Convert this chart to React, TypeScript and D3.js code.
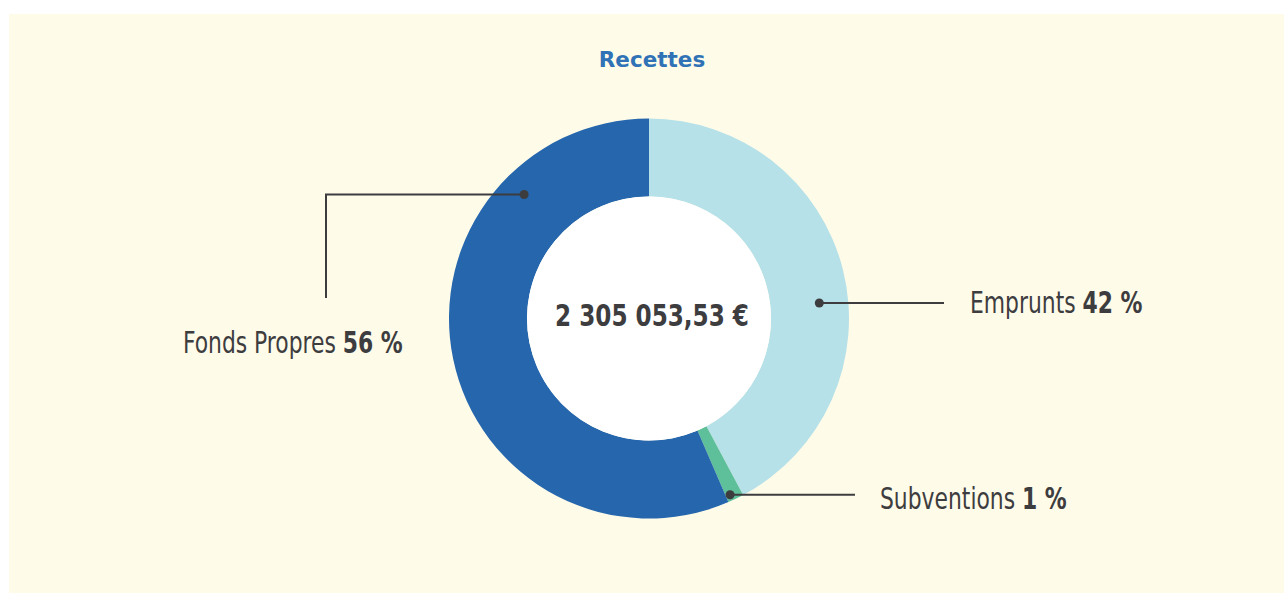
import React, { useEffect, useRef } from 'react';
import * as d3 from 'd3';

// values (shares of the total, %)
const categories = ['Emprunts', 'Subventions', 'Fonds Propres'];
const values = [42.2, 1.3, 56.5];
const pctLabels = ['42 %', '1 %', '56 %'];
const colors = ['#b6e1e8', '#5ebf9b', '#2566ad'];
const totalLabel = '2 305 053,53 €';
const title = 'Recettes';

const App: React.FC = () => {
  const chartRef = useRef<SVGSVGElement>(null);

  useEffect(() => {
    const svg = d3.select(chartRef.current);
    const width = 1284;
    const height = 593;
    svg.selectAll('*').remove();
    svg.attr('width', width).attr('height', height);

    svg
      .append('rect')
      .attr('x', 9)
      .attr('y', 14)
      .attr('width', width - 9)
      .attr('height', height - 14)
      .attr('fill', '#fffbe9');

    svg
      .append('text')
      .attr('x', 652)
      .attr('y', 67)
      .attr('text-anchor', 'middle')
      .attr('font-family', "'DejaVu Sans', sans-serif")
      .attr('font-weight', 700)
      .attr('font-size', 21.5)
      .attr('fill', '#2f72b6')
      .text(title);

    const cx = 649;
    const cy = 318.5;
    const outerR = 200;
    const innerR = 122;
    const condensed = "'DejaVu Sans Condensed', 'DejaVu Sans', sans-serif";

    const g = svg.append('g').attr('transform', `translate(${cx},${cy})`);

    const pie = d3
      .pie<number>()
      .sort(null)
      .value((d) => d);
    const arcs = pie(values);
    const arc = d3
      .arc<d3.PieArcDatum<number>>()
      .innerRadius(innerR)
      .outerRadius(outerR);

    g.selectAll('path.slice')
      .data(arcs)
      .enter()
      .append('path')
      .attr('class', 'slice')
      .attr('d', arc)
      .attr('fill', (d, i) => colors[i]);

    g.append('circle').attr('r', innerR).attr('fill', '#ffffff');

    g.append('text')
      .attr('transform', 'translate(3,7) scale(0.83,1)')
      .attr('text-anchor', 'middle')
      .attr('font-family', condensed)
      .attr('font-weight', 700)
      .attr('font-size', 31)
      .attr('fill', '#3d3d3f')
      .text(totalLabel);

    // leader lines: angle (deg, clockwise from top), radius of the dot, path after it
    const polar = (deg: number, r: number) => {
      const a = (deg * Math.PI) / 180;
      return [r * Math.sin(a), -r * Math.cos(a)];
    };
    const leaders = [
      { deg: 84.8, r: 171, toX: 944, elbowY: null, tx: 970, ty: 313 },
      { deg: 155.3, r: 194, toX: 855, elbowY: null, tx: 880, ty: 509 },
      { deg: 314.8, r: 176, toX: 326, elbowY: 298, tx: 183, ty: 353 },
    ];

    const ink = '#3d3d3f';
    leaders.forEach((l, i) => {
      const [dx, dy] = polar(l.deg, l.r);
      const px = cx + dx;
      const py = cy + dy;
      const pts: [number, number][] = [
        [px, py],
        [l.toX, py],
      ];
      if (l.elbowY !== null) pts.push([l.toX, l.elbowY]);
      svg
        .append('path')
        .attr('d', d3.line()(pts))
        .attr('fill', 'none')
        .attr('stroke', ink)
        .attr('stroke-width', 2);
      svg.append('circle').attr('cx', px).attr('cy', py).attr('r', 4.5).attr('fill', ink);

      const t = svg
        .append('text')
        .attr('transform', `translate(${l.tx},${l.ty}) scale(0.81,1)`)
        .attr('font-family', condensed)
        .attr('font-size', 30)
        .attr('fill', ink);
      t.append('tspan').text(categories[i] + ' ');
      t.append('tspan').attr('font-weight', 700).text(pctLabels[i]);
    });
  }, []);

  return (
    <svg
      ref={chartRef}
      style={{ position: 'absolute', left: 0, top: 0, display: 'block' }}
    ></svg>
  );
};

export default App;
